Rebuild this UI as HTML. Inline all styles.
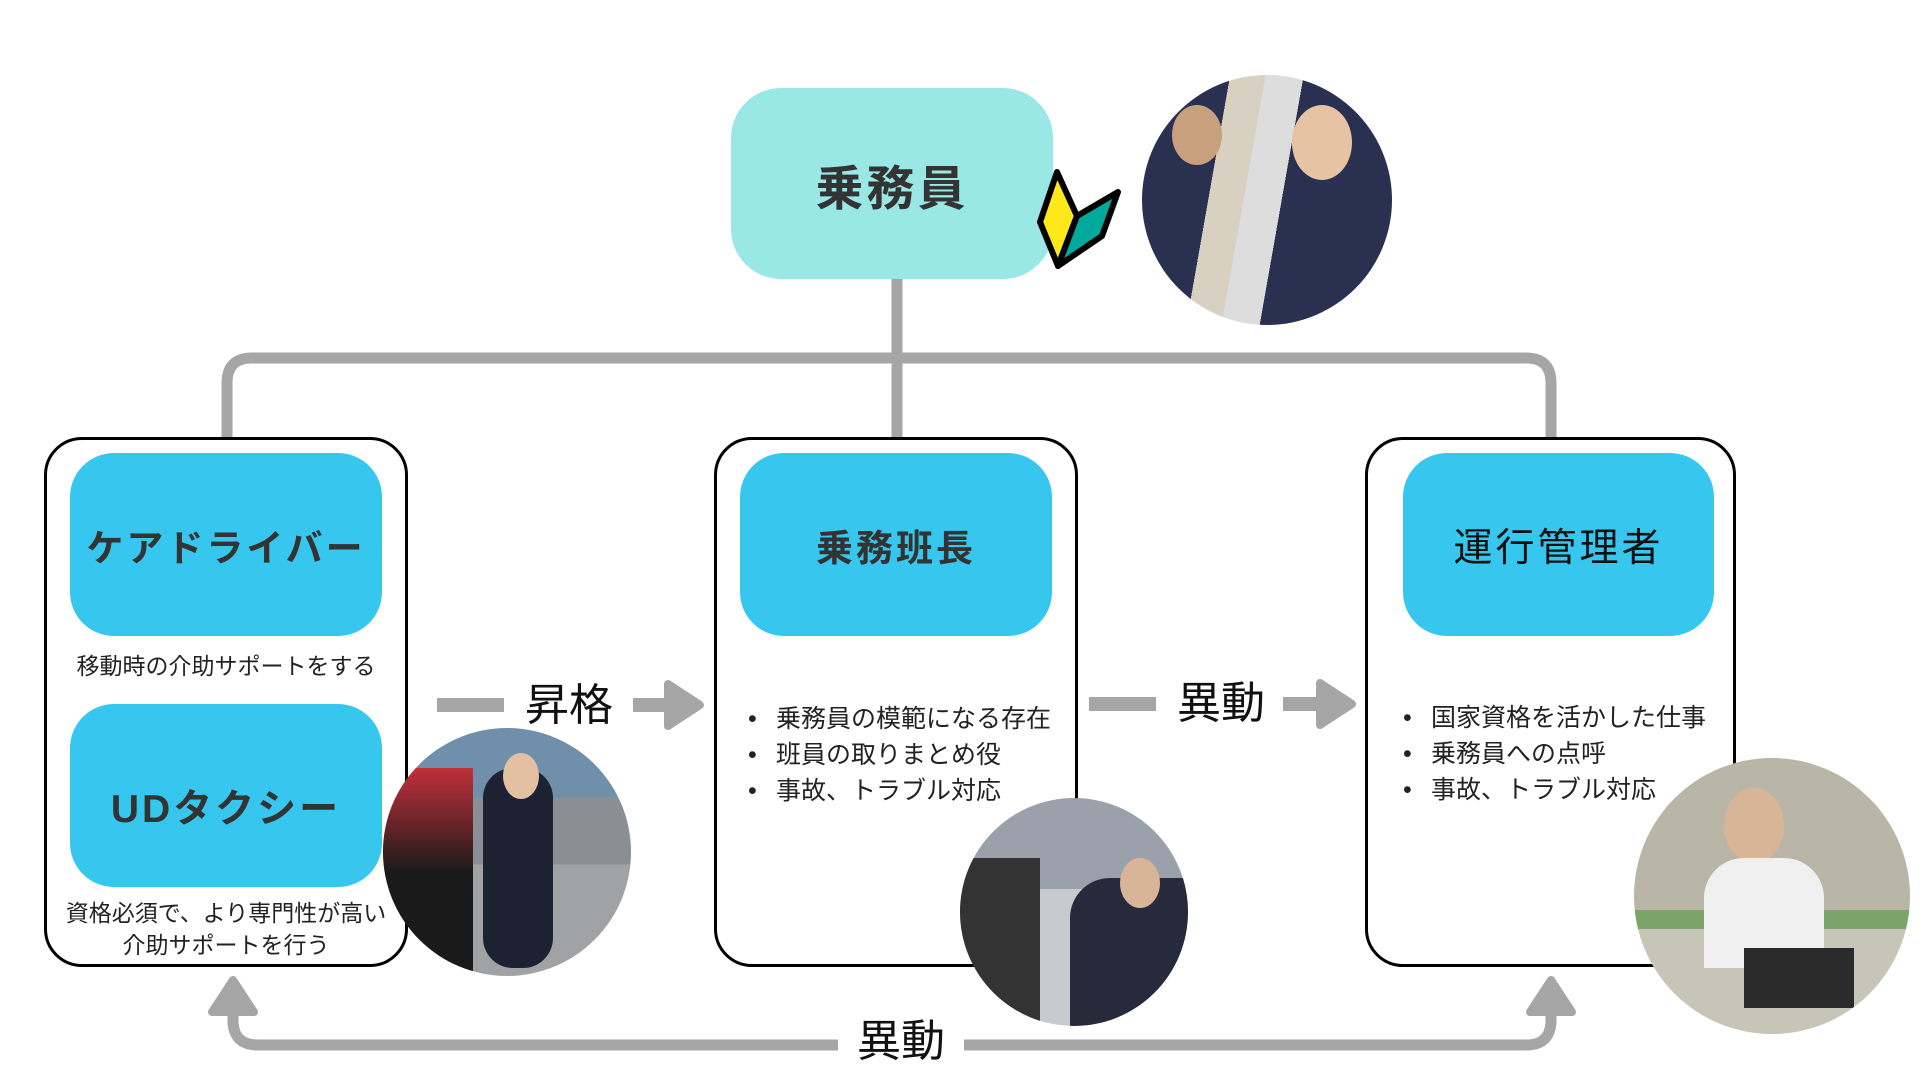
<!DOCTYPE html>
<html><head><meta charset="utf-8"><style>
*{margin:0;padding:0;box-sizing:border-box}
body{width:1920px;height:1080px;background:#fff;position:relative;overflow:hidden;font-family:"Liberation Sans","Noto Sans CJK JP",sans-serif;color:#222}
.a{position:absolute}
.card{position:absolute;border:3px solid #000;border-radius:38px;background:#fff}
.pill{position:absolute;background:#36c6ee;border-radius:44px;display:flex;align-items:center;justify-content:center;font-weight:bold;color:#333;font-size:37px;letter-spacing:3px}
.sm{position:absolute;font-size:23px;color:#222;white-space:nowrap;text-align:center}
ul{position:absolute;font-size:25px;line-height:36px;list-style:none}
ul li:before{content:"•";display:inline-block;width:28px;margin-left:-28px}
.lbl{position:absolute;background:#fff;font-size:44px;color:#111;text-align:center}
.ph{position:absolute;border-radius:50%;overflow:hidden}
</style></head><body>
<svg class="a" style="left:0;top:0" width="1920" height="1080">
<g stroke="#a6a6a6" stroke-width="11" fill="none">
<line x1="897" y1="279" x2="897" y2="437"/>
<path d="M227 437 V383 Q227 358 252 358 H1526 Q1551 358 1551 383 V437"/>
<path d="M233 1010 V1020 Q233 1045 258 1045 H1526 Q1551 1045 1551 1020 V1010"/>
</g>
<g stroke="#a6a6a6" stroke-width="14">
<line x1="437" y1="705" x2="504" y2="705"/><line x1="633" y1="705" x2="672" y2="705"/>
<line x1="1089" y1="704" x2="1156" y2="704"/><line x1="1283" y1="704" x2="1322" y2="704"/>
</g>
<g fill="#a6a6a6" stroke="#a6a6a6" stroke-width="8" stroke-linejoin="round">
<path d="M668 684 L700 705 L668 726 Z"/>
<path d="M1320 683 L1352 704 L1320 725 Z"/>
<path d="M212 1012 L233 980 L254 1012 Z"/>
<path d="M1530 1012 L1551 980 L1572 1012 Z"/>
</g>
</svg>
<div class="a" style="left:731px;top:88px;width:322px;height:191px;background:#9ae8e6;border-radius:50px;display:flex;align-items:center;justify-content:center;font-size:48px;font-weight:bold;color:#333;letter-spacing:3px">乗務員</div>
<svg class="a" style="left:0;top:0" width="1200" height="300">
<g stroke="#000" stroke-width="6" stroke-linejoin="round">
<path d="M1057 172 L1077 216 L1058 266 L1040 222 Z" fill="#ffe81a"/>
<path d="M1077 216 L1118 192 L1102 236 L1058 266 Z" fill="#00a99d"/>
</g>
</svg>
<div class="ph" style="left:1142px;top:75px;width:250px;height:250px;background:linear-gradient(100deg,#2a3150 0 30%,#d8d0c0 30% 42%,#ddd 42% 55%,#2a3150 55%)"><div class="a" style="left:150px;top:30px;width:60px;height:75px;border-radius:50%;background:#e6c3a3"></div><div class="a" style="left:30px;top:30px;width:50px;height:60px;border-radius:50%;background:#c9a07e"></div></div>

<div class="card" style="left:44px;top:437px;width:364px;height:530px"></div>
<div class="pill" style="left:70px;top:453px;width:312px;height:183px">ケアドライバー</div>
<div class="sm" style="left:44px;top:647px;width:364px">移動時の介助サポートをする</div>
<div class="pill" style="left:70px;top:704px;width:312px;height:183px;padding-top:20px;font-size:39px">UDタクシー</div>
<div class="sm" style="left:40px;top:897px;width:372px;line-height:32px">資格必須で、より専門性が高い<br>介助サポートを行う</div>

<div class="card" style="left:714px;top:437px;width:364px;height:530px"></div>
<div class="pill" style="left:740px;top:453px;width:312px;height:183px">乗務班長</div>
<ul style="left:776px;top:701px"><li>乗務員の模範になる存在</li><li>班員の取りまとめ役</li><li>事故、トラブル対応</li></ul>

<div class="card" style="left:1365px;top:437px;width:371px;height:530px"></div>
<div class="pill" style="left:1403px;top:453px;width:311px;height:183px;font-weight:normal;font-size:39px;color:#111">運行管理者</div>
<ul style="left:1431px;top:700px"><li>国家資格を活かした仕事</li><li>乗務員への点呼</li><li>事故、トラブル対応</li></ul>

<div class="lbl" style="left:510px;top:668px;width:118px;height:76px;line-height:76px">昇格</div>
<div class="lbl" style="left:1163px;top:666px;width:116px;height:76px;line-height:76px">異動</div>
<div class="lbl" style="left:838px;top:1004px;width:126px;height:76px;line-height:76px">異動</div>

<div class="ph" style="left:383px;top:728px;width:248px;height:248px;background:linear-gradient(180deg,#6f8faa 0 28%,#8a8f96 28% 55%,#a0a2a4 55%)"><div class="a" style="left:0;top:40px;width:90px;height:210px;background:linear-gradient(#c0303a,#1a1a1a 50%)"></div><div class="a" style="left:100px;top:40px;width:70px;height:200px;border-radius:30px;background:#1d2233"></div><div class="a" style="left:120px;top:25px;width:36px;height:46px;border-radius:50%;background:#e3c0a2"></div></div>
<div class="ph" style="left:960px;top:798px;width:228px;height:228px;background:linear-gradient(180deg,#9aa1aa 0 40%,#c8cbce 40%)"><div class="a" style="left:0;top:60px;width:80px;height:170px;background:#333"></div><div class="a" style="left:110px;top:80px;width:118px;height:150px;border-radius:40px 0 0 0;background:#262a3a"></div><div class="a" style="left:160px;top:60px;width:40px;height:50px;border-radius:50%;background:#d9b597"></div></div>
<div class="ph" style="left:1634px;top:758px;width:276px;height:276px;background:linear-gradient(180deg,#b9b6a8 0 55%,#7ca36a 55% 62%,#c7c4b8 62%)"><div class="a" style="left:90px;top:30px;width:60px;height:75px;border-radius:50%;background:#d9b597"></div><div class="a" style="left:70px;top:100px;width:120px;height:110px;border-radius:40px 40px 0 0;background:#f0f0f0"></div><div class="a" style="left:110px;top:190px;width:110px;height:60px;background:#2a2a2a"></div></div>
</body></html>
